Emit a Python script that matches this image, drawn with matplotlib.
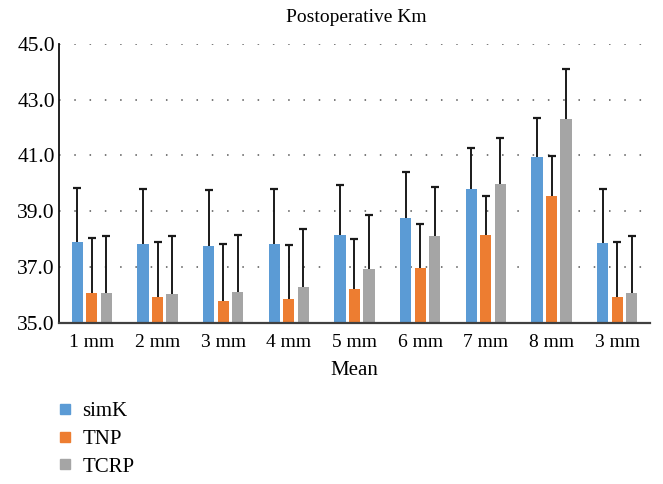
import matplotlib
matplotlib.use("Agg")
import matplotlib.pyplot as plt
import numpy as np
from matplotlib.lines import Line2D

categories = ["1 mm", "2 mm", "3 mm", "4 mm", "5 mm", "6 mm", "7 mm", "8 mm", "3 mm"]
simK = [37.91, 37.82, 37.77, 37.82, 38.13, 38.77, 39.80, 40.94, 37.87]
simK_sd = [1.92, 1.96, 1.98, 1.96, 1.80, 1.62, 1.48, 1.42, 1.94]
TNP = [36.06, 35.94, 35.78, 35.84, 36.20, 36.97, 38.16, 39.56, 35.93]
TNP_sd = [1.97, 1.97, 2.03, 1.96, 1.79, 1.57, 1.40, 1.42, 1.98]
TCRP = [36.08, 36.04, 36.09, 36.29, 36.92, 38.12, 39.98, 42.31, 36.07]
TCRP_sd = [2.02, 2.06, 2.04, 2.07, 1.93, 1.76, 1.65, 1.78, 2.04]
series_names = ["simK", "TNP", "TCRP"]
colors = ["#5B9BD5", "#ED7D31", "#A5A5A5"]

plt.rcParams["font.family"] = ["Liberation Serif", "DejaVu Serif"]

fig = plt.figure(figsize=(6.63, 4.84), dpi=100)
ax = fig.add_axes([59 / 663, 1 - 322.7 / 484, 591 / 663, (322.7 - 44) / 484])

x = np.arange(len(categories))
w = 0.17
off = 0.22
for i, (vals, sds) in enumerate([(simK, simK_sd), (TNP, TNP_sd), (TCRP, TCRP_sd)]):
    pos = x + (i - 1) * off
    ax.bar(pos, np.array(vals) - 35.0, bottom=35.0, width=w, color=colors[i], zorder=2)
    eb = ax.errorbar(pos, vals, yerr=[np.zeros(len(vals)), sds], fmt="none",
                     ecolor="#1a1a1a", elinewidth=1.4, capsize=3.2, capthick=1.6, zorder=3)
    caps = eb[1]
    if len(caps) >= 2:
        caps[0].set_visible(False)

ax.set_ylim(35, 45)
ax.set_xlim(-0.5, len(categories) - 0.5)
ax.set_yticks([35, 37, 39, 41, 43, 45])
ax.set_yticklabels([f"{v:.1f}" for v in [35, 37, 39, 41, 43, 45]], fontsize=15.5)
ax.set_xticks(x)
ax.set_xticklabels(categories, fontsize=14)
ax.tick_params(axis="both", length=0, pad=3)
ax.tick_params(axis="x", pad=8)
ax.yaxis.grid(True, linestyle=(0, (1, 9)), color="#555555", linewidth=1.1, zorder=0)
ax.set_axisbelow(True)
for s in ["top", "right"]:
    ax.spines[s].set_visible(False)
ax.spines["left"].set_color("#111111")
ax.spines["left"].set_linewidth(1.3)
ax.spines["bottom"].set_color("#404040")
ax.spines["bottom"].set_linewidth(1.6)

ax.set_xlabel("Mean", fontsize=15, labelpad=7)
fig.text(356 / 663, 1 - 17 / 484, "Postoperative Km", ha="center", va="center", fontsize=14)

handles = [Line2D([], [], marker="s", linestyle="none", markersize=7,
                  markerfacecolor=c, markeredgecolor=c) for c in colors]
fig.legend(handles, series_names, loc="upper left",
           bbox_to_anchor=(48 / 663, 1 - 393 / 484), frameon=False,
           fontsize=15, handlelength=0.8, handletextpad=0.45, labelspacing=0.4,
           borderaxespad=0)

fig.savefig("out.png", dpi=100)
